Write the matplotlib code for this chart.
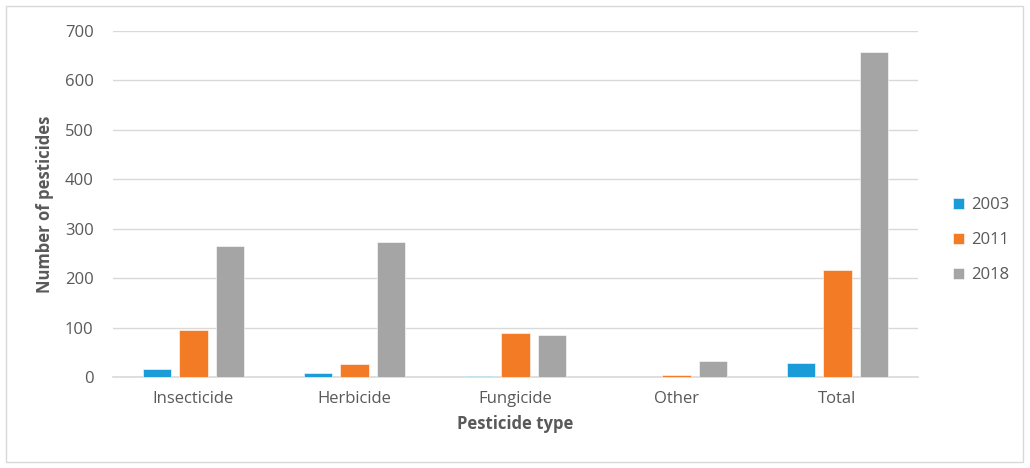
import numpy as np
import matplotlib.pyplot as plt
from matplotlib.patches import Rectangle

# Число пестицидов по типам и годам
categories = ['Insecticide', 'Herbicide', 'Fungicide', 'Other', 'Total']
years = ['2003', '2011', '2018']
counts_2003 = [16, 9, 3, 1, 29]
counts_2011 = [95, 27, 90, 4, 216]
counts_2018 = [266, 273, 85, 33, 657]

colors = ['#1B9BD7', '#F47B26', '#A5A5A5']
text_color = '#595959'
grid_color = '#D9D9D9'

plt.rcParams['font.family'] = ['Open Sans', 'DejaVu Sans']

fig = plt.figure(figsize=(10.30, 4.68), dpi=100)
ax = fig.add_axes([113 / 1030, 1 - 377 / 468, 805 / 1030, 346 / 468])

# Рамка вокруг всей диаграммы
fig.patches.append(Rectangle((6 / 1030, 6 / 468), 1017 / 1030, 456 / 468,
                             transform=fig.transFigure, fill=False,
                             edgecolor=grid_color, linewidth=1))

x = np.arange(len(categories))
width = 0.174
step = 0.224
for i, (vals, year) in enumerate(zip([counts_2003, counts_2011, counts_2018], years)):
    ax.bar(x + (i - 1) * step, vals, width, color=colors[i], label=year,
           zorder=3, edgecolor='white', linewidth=0.4)

ax.set_xlim(-0.5, len(categories) - 0.5)
ax.set_ylim(0, 700)
ax.set_yticks(range(0, 701, 100))
ax.set_xticks(x)
ax.set_xticklabels(categories)

ax.grid(axis='y', color=grid_color, linewidth=1, zorder=0)
for side in ['top', 'right', 'left']:
    ax.spines[side].set_visible(False)
ax.spines['bottom'].set_color(grid_color)
ax.spines['bottom'].set_linewidth(1.2)
ax.tick_params(axis='both', length=0, colors=text_color, labelsize=12)
ax.tick_params(axis='y', pad=14)
ax.tick_params(axis='x', pad=10)

ax.set_xlabel('Pesticide type', fontsize=12, fontweight='bold',
              color=text_color, labelpad=6)
ax.set_ylabel('Number of pesticides', fontsize=12, fontweight='bold',
              color=text_color, labelpad=8)

leg = ax.legend(loc='center left', bbox_to_anchor=(1.025, 0.395), frameon=False,
                fontsize=12, handlelength=0.65, handleheight=0.65,
                handletextpad=0.45, labelspacing=1.15)
for t in leg.get_texts():
    t.set_color(text_color)

fig.savefig('out.png', dpi=100)
